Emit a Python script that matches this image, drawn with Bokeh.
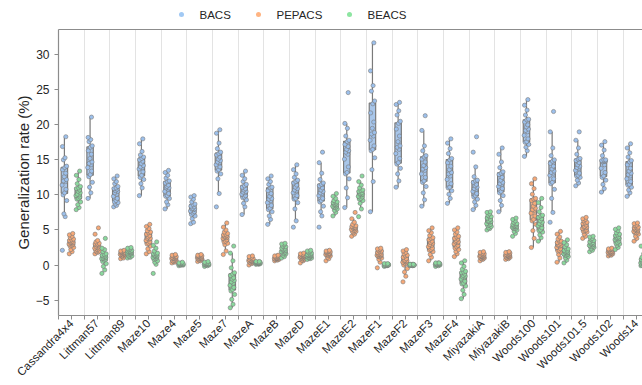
from bokeh.plotting import figure
from bokeh.models import Range1d, FixedTicker, LinearAxis
from bokeh.layouts import column
from bokeh.core.properties import value
from bokeh.embed import file_html
from bokeh.resources import INLINE
import numpy as np

FONT = "Liberation Sans"

categories = ["Cassandra4x4", "Littman57", "Littman89", "Maze10", "Maze4", "Maze5", "Maze7",
              "MazeA", "MazeB", "MazeD", "MazeE1", "MazeE2", "MazeF1", "MazeF2", "MazeF3",
              "MazeF4", "MiyazakiA", "MiyazakiB", "Woods100", "Woods101", "Woods101.5",
              "Woods102", "Woods14"]

series_names = ["BACS", "PEPACS", "BEACS"]

bacs = [
    [2.1, 6.9, 7.3, 9.2, 10.0, 10.3, 10.8, 11.4, 11.9, 12.0, 12.2, 12.6, 13.1, 13.6, 13.9, 14.1, 15.0, 15.3, 16.9, 18.3],
    [9.5, 10.3, 11.1, 11.8, 12.6, 12.9, 13.4, 13.9, 14.3, 14.5, 14.7, 15.2, 15.8, 16.3, 16.8, 17.0, 17.6, 17.9, 18.2, 21.1],
    [8.3, 8.5, 8.7, 8.9, 9.0, 9.2, 9.5, 9.8, 10.1, 10.3, 10.5, 10.6, 10.8, 10.9, 11.0, 11.2, 11.6, 11.9, 12.3, 12.7],
    [9.9, 11.0, 11.6, 12.2, 12.5, 12.8, 13.3, 13.7, 13.9, 14.0, 14.2, 14.5, 14.8, 15.0, 15.2, 15.4, 15.7, 16.2, 17.3, 18.0],
    [8.0, 8.6, 9.0, 9.5, 9.8, 9.9, 10.2, 10.5, 10.8, 11.0, 11.0, 11.2, 11.4, 11.7, 11.9, 12.0, 12.4, 12.8, 13.2, 13.5],
    [5.9, 6.1, 6.6, 7.0, 7.2, 7.4, 7.6, 7.7, 7.9, 8.0, 8.0, 8.1, 8.3, 8.4, 8.6, 8.7, 9.0, 9.4, 9.7, 9.9],
    [8.3, 10.2, 12.3, 13.0, 13.4, 13.6, 14.0, 14.3, 14.6, 14.7, 14.9, 15.1, 15.4, 15.7, 15.9, 16.1, 16.6, 17.4, 18.8, 19.3],
    [7.2, 8.3, 8.8, 9.3, 9.6, 9.7, 9.9, 10.1, 10.3, 10.4, 10.5, 10.7, 10.9, 11.1, 11.3, 11.5, 11.9, 12.3, 12.8, 13.4],
    [5.8, 6.5, 7.0, 7.6, 7.9, 8.1, 8.5, 8.9, 9.2, 9.4, 9.5, 9.8, 10.2, 10.6, 11.0, 11.1, 11.5, 11.9, 12.3, 12.7],
    [5.4, 6.3, 8.0, 8.9, 9.4, 9.5, 9.9, 10.3, 10.6, 10.7, 10.9, 11.1, 11.4, 11.7, 11.9, 12.1, 12.5, 13.0, 13.6, 14.3],
    [5.4, 7.0, 7.6, 8.4, 9.0, 9.2, 9.5, 9.9, 10.2, 10.3, 10.5, 10.7, 11.0, 11.3, 11.5, 11.7, 12.2, 13.1, 14.6, 16.1],
    [8.2, 9.6, 11.0, 12.3, 13.0, 13.2, 14.0, 15.1, 15.8, 16.1, 16.3, 16.5, 16.9, 17.2, 17.6, 17.8, 18.4, 19.5, 20.2, 24.6],
    [7.6, 11.9, 13.6, 15.3, 16.3, 16.5, 17.0, 17.8, 18.4, 18.7, 18.9, 19.5, 20.4, 21.7, 23.0, 23.4, 24.8, 25.6, 27.7, 31.7],
    [11.1, 12.0, 13.0, 13.8, 14.4, 14.6, 15.2, 15.9, 16.5, 16.8, 17.0, 17.6, 18.4, 19.4, 20.2, 20.5, 21.4, 22.0, 22.9, 23.2],
    [8.4, 9.3, 10.3, 11.2, 11.8, 12.0, 12.5, 13.0, 13.5, 13.7, 13.9, 14.2, 14.7, 15.1, 15.4, 15.6, 16.3, 17.0, 19.2, 21.3],
    [8.8, 9.5, 10.1, 10.6, 11.0, 11.1, 11.6, 12.2, 12.7, 13.0, 13.2, 13.6, 14.1, 14.6, 15.0, 15.2, 15.9, 16.6, 17.4, 18.0],
    [7.9, 8.5, 9.0, 9.4, 9.7, 9.9, 10.2, 10.5, 10.8, 10.9, 11.1, 11.3, 11.5, 11.8, 12.0, 12.1, 12.6, 14.0, 16.1, 18.3],
    [7.6, 8.5, 9.2, 9.9, 10.3, 10.5, 10.9, 11.2, 11.5, 11.6, 11.8, 12.1, 12.5, 12.9, 13.1, 13.3, 13.9, 14.7, 15.8, 16.7],
    [15.5, 16.3, 16.8, 17.2, 17.5, 17.6, 18.0, 18.5, 19.0, 19.2, 19.4, 19.7, 20.0, 20.4, 20.7, 20.8, 21.4, 22.1, 22.8, 23.6],
    [6.1, 7.5, 9.5, 10.8, 11.6, 11.8, 12.3, 12.8, 13.1, 13.2, 13.4, 13.7, 14.1, 14.5, 14.8, 15.0, 15.6, 16.7, 19.0, 21.9],
    [11.3, 11.7, 12.1, 12.5, 12.7, 12.8, 13.1, 13.5, 13.8, 13.9, 14.1, 14.3, 14.6, 14.9, 15.1, 15.2, 15.8, 16.7, 17.8, 19.0],
    [10.4, 10.9, 11.5, 12.1, 12.5, 12.7, 13.2, 13.8, 14.3, 14.7, 14.8, 14.8, 14.9, 14.9, 15.0, 15.0, 15.6, 16.4, 17.1, 17.6],
    [9.8, 10.3, 10.7, 11.1, 11.4, 11.5, 11.9, 12.3, 12.7, 12.9, 13.1, 13.4, 13.8, 14.3, 14.7, 14.9, 15.4, 16.0, 16.7, 17.3],
]

pepacs = [
    [1.6, 1.9, 2.2, 2.5, 2.7, 2.8, 2.9, 3.0, 3.1, 3.2, 3.2, 3.3, 3.4, 3.5, 3.6, 3.7, 3.9, 4.1, 4.3, 4.5],
    [1.6, 1.8, 1.9, 2.0, 2.1, 2.2, 2.3, 2.4, 2.5, 2.6, 2.7, 2.8, 2.9, 3.0, 3.0, 3.1, 3.3, 3.5, 4.4, 5.3],
    [0.9, 1.0, 1.2, 1.3, 1.4, 1.4, 1.5, 1.5, 1.6, 1.6, 1.6, 1.7, 1.7, 1.8, 1.8, 1.8, 1.9, 2.0, 2.0, 2.1],
    [1.6, 1.9, 2.3, 2.7, 3.0, 3.1, 3.3, 3.5, 3.7, 3.8, 3.8, 4.0, 4.2, 4.4, 4.6, 4.7, 4.9, 5.2, 5.5, 5.8],
    [0.3, 0.4, 0.5, 0.6, 0.6, 0.7, 0.8, 0.9, 0.9, 1.0, 1.0, 1.0, 1.1, 1.1, 1.2, 1.2, 1.3, 1.4, 1.4, 1.5],
    [0.5, 0.6, 0.7, 0.8, 0.8, 0.9, 0.9, 1.0, 1.0, 1.0, 1.0, 1.1, 1.1, 1.2, 1.2, 1.3, 1.3, 1.4, 1.4, 1.5],
    [1.5, 2.0, 2.9, 3.1, 3.3, 3.4, 3.6, 3.8, 3.9, 4.0, 4.0, 4.1, 4.2, 4.3, 4.4, 4.5, 4.7, 5.0, 5.4, 6.0],
    [0.0, 0.2, 0.3, 0.4, 0.4, 0.5, 0.5, 0.6, 0.6, 0.7, 0.7, 0.7, 0.8, 0.8, 0.9, 0.9, 1.0, 1.1, 1.2, 1.3],
    [0.6, 0.7, 0.8, 0.8, 0.8, 0.9, 0.9, 0.9, 1.0, 1.0, 1.0, 1.0, 1.1, 1.1, 1.1, 1.2, 1.2, 1.3, 1.3, 1.4],
    [0.3, 0.6, 0.7, 0.8, 0.9, 0.9, 1.0, 1.1, 1.1, 1.2, 1.2, 1.2, 1.3, 1.3, 1.4, 1.4, 1.5, 1.5, 1.6, 1.7],
    [0.6, 0.9, 1.1, 1.3, 1.4, 1.4, 1.5, 1.5, 1.6, 1.6, 1.7, 1.7, 1.7, 1.8, 1.9, 1.9, 1.9, 2.0, 2.0, 2.1],
    [4.1, 4.4, 4.6, 4.8, 4.8, 4.9, 5.0, 5.1, 5.2, 5.3, 5.3, 5.4, 5.4, 5.5, 5.6, 5.6, 5.8, 6.1, 6.6, 7.5],
    [-0.4, 0.4, 0.8, 1.0, 1.2, 1.2, 1.3, 1.4, 1.4, 1.5, 1.5, 1.6, 1.7, 1.8, 1.9, 2.0, 2.1, 2.2, 2.3, 2.4],
    [-2.4, -1.6, -1.0, -0.5, 0.0, 0.2, 0.3, 0.4, 0.5, 0.6, 0.6, 0.7, 0.9, 1.1, 1.3, 1.4, 1.6, 1.8, 2.0, 2.2],
    [0.6, 1.1, 1.5, 1.9, 2.1, 2.2, 2.4, 2.6, 2.8, 2.9, 3.1, 3.2, 3.4, 3.6, 3.8, 3.9, 4.2, 4.6, 4.9, 5.3],
    [1.2, 1.6, 1.9, 2.2, 2.4, 2.6, 2.8, 3.0, 3.2, 3.3, 3.3, 3.5, 3.7, 3.8, 4.0, 4.1, 4.4, 4.7, 5.0, 5.3],
    [0.6, 0.8, 0.9, 1.0, 1.0, 1.1, 1.1, 1.2, 1.2, 1.3, 1.3, 1.3, 1.4, 1.4, 1.5, 1.6, 1.6, 1.7, 1.8, 1.9],
    [0.8, 0.9, 1.0, 1.1, 1.1, 1.2, 1.2, 1.3, 1.3, 1.4, 1.4, 1.4, 1.5, 1.5, 1.6, 1.7, 1.7, 1.8, 1.8, 1.9],
    [2.5, 3.8, 4.9, 5.8, 6.3, 6.5, 7.0, 7.4, 7.8, 7.9, 8.1, 8.4, 8.8, 9.2, 9.4, 9.5, 10.1, 10.9, 11.6, 12.3],
    [0.4, 1.0, 1.5, 1.8, 2.0, 2.1, 2.3, 2.5, 2.7, 2.8, 2.8, 2.9, 3.1, 3.2, 3.4, 3.4, 3.7, 4.0, 4.4, 4.8],
    [3.8, 4.1, 4.4, 4.7, 4.8, 4.9, 5.0, 5.2, 5.3, 5.4, 5.4, 5.5, 5.7, 5.9, 6.0, 6.1, 6.3, 6.5, 6.6, 6.8],
    [1.3, 1.4, 1.5, 1.6, 1.6, 1.7, 1.7, 1.8, 1.8, 1.9, 1.9, 1.9, 2.0, 2.1, 2.2, 2.2, 2.2, 2.3, 2.3, 2.4],
    [3.4, 3.8, 4.1, 4.4, 4.6, 4.6, 4.7, 4.8, 4.9, 5.0, 5.0, 5.1, 5.2, 5.3, 5.4, 5.4, 5.6, 5.7, 5.9, 6.0],
]

beacs = [
    [7.9, 8.2, 8.6, 9.0, 9.4, 9.5, 9.7, 9.9, 10.0, 10.1, 10.3, 10.5, 10.7, 10.9, 11.0, 11.2, 11.6, 12.2, 12.8, 13.4],
    [-1.2, -0.7, -0.2, 0.2, 0.5, 0.7, 0.8, 0.9, 1.0, 1.0, 1.1, 1.2, 1.3, 1.4, 1.5, 1.6, 1.9, 2.2, 2.4, 3.8],
    [1.0, 1.1, 1.2, 1.3, 1.4, 1.5, 1.6, 1.7, 1.7, 1.8, 1.8, 1.9, 1.9, 2.0, 2.0, 2.1, 2.2, 2.3, 2.4, 2.5],
    [-1.2, 0.1, 0.4, 0.6, 0.8, 0.9, 1.0, 1.1, 1.2, 1.3, 1.3, 1.4, 1.5, 1.6, 1.7, 1.7, 2.0, 2.4, 2.8, 3.3],
    [-0.1, 0.0, 0.0, 0.0, 0.1, 0.1, 0.1, 0.1, 0.1, 0.1, 0.1, 0.1, 0.2, 0.2, 0.2, 0.2, 0.2, 0.3, 0.3, 0.4],
    [-0.2, -0.1, 0.0, 0.0, 0.0, 0.1, 0.1, 0.1, 0.1, 0.1, 0.1, 0.1, 0.2, 0.2, 0.2, 0.2, 0.3, 0.3, 0.4, 0.5],
    [-6.1, -5.6, -4.9, -4.2, -3.7, -3.5, -3.2, -2.9, -2.6, -2.4, -2.2, -2.0, -1.8, -1.5, -1.3, -1.1, -0.4, 0.6, 1.7, 2.7],
    [0.1, 0.1, 0.2, 0.2, 0.2, 0.3, 0.3, 0.3, 0.3, 0.3, 0.3, 0.3, 0.3, 0.4, 0.4, 0.4, 0.4, 0.4, 0.5, 0.5],
    [1.0, 1.2, 1.4, 1.6, 1.7, 1.7, 1.8, 1.9, 2.0, 2.1, 2.1, 2.2, 2.3, 2.4, 2.6, 2.6, 2.7, 2.9, 3.0, 3.1],
    [0.8, 0.9, 1.0, 1.0, 1.1, 1.1, 1.2, 1.3, 1.3, 1.4, 1.4, 1.4, 1.5, 1.5, 1.6, 1.7, 1.8, 1.9, 2.0, 2.1],
    [7.0, 7.5, 7.8, 8.0, 8.2, 8.2, 8.3, 8.4, 8.5, 8.6, 8.6, 8.7, 8.8, 8.9, 9.0, 9.0, 9.2, 9.5, 9.8, 10.2],
    [6.9, 8.0, 8.8, 9.2, 9.4, 9.5, 9.7, 9.8, 10.0, 10.1, 10.1, 10.2, 10.3, 10.5, 10.6, 10.7, 11.0, 11.4, 11.9, 12.7],
    [-0.2, -0.1, -0.1, 0.0, 0.0, 0.0, 0.0, 0.0, 0.0, 0.0, 0.0, 0.0, 0.0, 0.0, 0.1, 0.1, 0.1, 0.1, 0.2, 0.2],
    [-0.1, -0.1, 0.0, 0.0, 0.0, 0.0, 0.0, 0.0, 0.0, 0.0, 0.0, 0.0, 0.0, 0.0, 0.0, 0.0, 0.1, 0.1, 0.1, 0.1],
    [-0.2, -0.1, 0.0, 0.0, 0.0, 0.1, 0.1, 0.1, 0.1, 0.1, 0.1, 0.1, 0.1, 0.2, 0.2, 0.2, 0.2, 0.3, 0.3, 0.3],
    [-4.8, -4.2, -3.6, -3.0, -2.7, -2.6, -2.3, -2.0, -1.8, -1.7, -1.6, -1.5, -1.3, -1.1, -1.0, -0.9, -0.6, -0.2, 0.3, 0.6],
    [5.0, 5.2, 5.3, 5.5, 5.6, 5.7, 5.8, 5.9, 6.1, 6.2, 6.2, 6.3, 6.5, 6.7, 6.9, 6.9, 7.1, 7.3, 7.5, 7.6],
    [4.1, 4.5, 4.8, 5.0, 5.2, 5.2, 5.3, 5.4, 5.5, 5.5, 5.5, 5.6, 5.7, 5.8, 5.9, 5.9, 6.1, 6.3, 6.5, 6.7],
    [3.4, 3.9, 4.3, 4.7, 4.9, 5.0, 5.3, 5.6, 5.8, 5.9, 6.1, 6.3, 6.6, 6.8, 7.0, 7.1, 7.6, 8.2, 8.9, 9.5],
    [0.3, 0.7, 1.0, 1.2, 1.4, 1.4, 1.5, 1.6, 1.7, 1.8, 1.8, 1.9, 2.0, 2.1, 2.3, 2.3, 2.6, 2.9, 3.2, 3.6],
    [1.9, 2.1, 2.3, 2.5, 2.6, 2.6, 2.7, 2.8, 2.9, 3.0, 3.0, 3.1, 3.2, 3.3, 3.5, 3.5, 3.7, 3.8, 4.0, 4.1],
    [2.2, 2.5, 2.8, 3.0, 3.1, 3.2, 3.4, 3.6, 3.7, 3.8, 3.8, 3.9, 4.0, 4.2, 4.3, 4.4, 4.6, 4.9, 5.1, 5.3],
    [-0.1, -0.1, 0.0, 0.0, 0.0, 0.1, 0.2, 0.3, 0.3, 0.4, 0.4, 0.5, 0.6, 0.8, 0.9, 1.0, 1.1, 1.6, 2.7, 3.9],
]

y_ticks = [-5, 0, 5, 10, 15, 20, 25, 30]

# ---- styling ----
box_colors = ["#a8c6ea", "#f3b48c", "#98d9a8"]
point_colors = ["#9cc0ec", "#f6a877", "#8ad99d"]
legend_colors = ["#a1c9f4", "#ffb482", "#8de5a1"]
edge = "#7a7a7a"
axis_gray = "#8c8c8c"
text_col = "#262626"
offsets = [-0.54, 0.0, 0.54]
box_w = 0.5
jitter = [-0.16, 0.06, -0.04, 0.18, -0.10, 0.02, 0.12, -0.18, 0.08, -0.07,
          0.15, -0.01, 0.10, -0.14, 0.03, 0.17, -0.08, 0.05, -0.15, 0.11]

n = len(categories)
Y_TOP = 33.6
Y_BOT = -7.2
W = 642
LEG_H = 21
LEFT = 58

# ---------- legend strip (own small figure, no axes) ----------
leg = figure(width=W, height=LEG_H, output_backend="svg", toolbar_location=None,
             x_range=Range1d(LEFT, W), y_range=Range1d(0, LEG_H),
             x_axis_location=None, y_axis_location=None,
             min_border_left=LEFT, min_border_right=0, min_border_top=0, min_border_bottom=0)
leg.grid.visible = False
leg.outline_line_color = None
dot_x = [181, 258, 349]
text_x = [199, 276, 367]
leg_y = LEG_H - 14
leg.scatter(x=dot_x, y=[leg_y] * 3, size=5, fill_color=legend_colors, line_color=None)
leg.text(x=text_x, y=[leg_y] * 3, text=series_names, text_font=value(FONT),
         text_font_size="11.5px", text_color=text_col, text_baseline="middle", text_align="left")

# ---------- main plot ----------
p = figure(width=W, height=385 - LEG_H, output_backend="svg", toolbar_location=None,
           x_range=Range1d(0, 45.5), y_range=Range1d(Y_BOT, Y_TOP),
           min_border_left=LEFT, min_border_right=0, min_border_top=8, min_border_bottom=0)
p.outline_line_color = None
p.ygrid.visible = False

centers = [2 * i + 1 for i in range(n)]
bounds = [2 * i for i in range(n + 1)]
p.xgrid.ticker = FixedTicker(ticks=bounds[1:])
p.xgrid.grid_line_color = "#e3e3e3"
p.xgrid.grid_line_width = 1

xa = p.xaxis[0]
xa.ticker = FixedTicker(ticks=centers, minor_ticks=bounds)
xa.major_label_overrides = {c: name for c, name in zip(centers, categories)}
xa.major_label_orientation = 0.785398
xa.major_label_text_font = FONT
xa.major_label_text_font_size = "11.5px"
xa.major_label_text_color = text_col
xa.major_label_standoff = 2

ya = p.yaxis[0]
ya.ticker = FixedTicker(ticks=y_ticks)
ya.axis_label = "Generalization rate (%)"
ya.axis_label_text_font = FONT
ya.axis_label_text_font_size = "15px"
ya.axis_label_text_font_style = "normal"
ya.axis_label_text_color = text_col
ya.axis_label_standoff = 1
ya.major_label_text_font = FONT
ya.major_label_text_font_size = "12px"
ya.major_label_text_color = text_col

for ax in (xa, ya):
    ax.axis_line_color = axis_gray
    ax.axis_line_width = 1.2
    ax.major_tick_line_color = axis_gray
    ax.major_tick_in = 0
    ax.major_tick_out = 4
    ax.minor_tick_in = 0
    ax.minor_tick_out = 4
xa.minor_tick_line_color = axis_gray
ya.minor_tick_line_color = None

# top frame line as an empty axis above the frame
top = LinearAxis(ticker=FixedTicker(ticks=[]), axis_line_color=axis_gray, axis_line_width=1.2,
                 major_tick_line_color=None, minor_tick_line_color=None,
                 major_label_text_font_size="0px", major_label_standoff=0)
p.add_layout(top, "above")

all_series = [bacs, pepacs, beacs]
for s, (name, data) in enumerate(zip(series_names, all_series)):
    xs, q1s, meds, q3s, los, his = [], [], [], [], [], []
    px, py = [], []
    for i, vals in enumerate(data):
        v = np.array(vals, dtype=float)
        q1, med, q3 = np.percentile(v, [25, 50, 75])
        iqr = q3 - q1
        lo = float(v[v >= q1 - 1.5 * iqr].min())
        hi = float(v[v <= q3 + 1.5 * iqr].max())
        x = centers[i] + offsets[s]
        xs.append(x); q1s.append(float(q1)); meds.append(float(med)); q3s.append(float(q3))
        los.append(lo); his.append(hi)
        for k, val in enumerate(vals):
            px.append(x + jitter[k % len(jitter)])
            py.append(val)
    p.segment(x0=xs, y0=los, x1=xs, y1=q1s, line_color=edge, line_width=1.2)
    p.segment(x0=xs, y0=q3s, x1=xs, y1=his, line_color=edge, line_width=1.2)
    p.vbar(x=xs, width=box_w, bottom=q1s, top=q3s, fill_color=box_colors[s],
           line_color=edge, line_width=1.2)
    p.segment(x0=[x - box_w / 2 for x in xs], y0=meds, x1=[x + box_w / 2 for x in xs], y1=meds,
              line_color=edge, line_width=1.2)
    p.scatter(x=px, y=py, size=4.2, fill_color=point_colors[s], line_color=edge,
              line_width=0.6)

layout = column(leg, p, spacing=0)
open("out.html", "w").write(file_html(layout, INLINE))
